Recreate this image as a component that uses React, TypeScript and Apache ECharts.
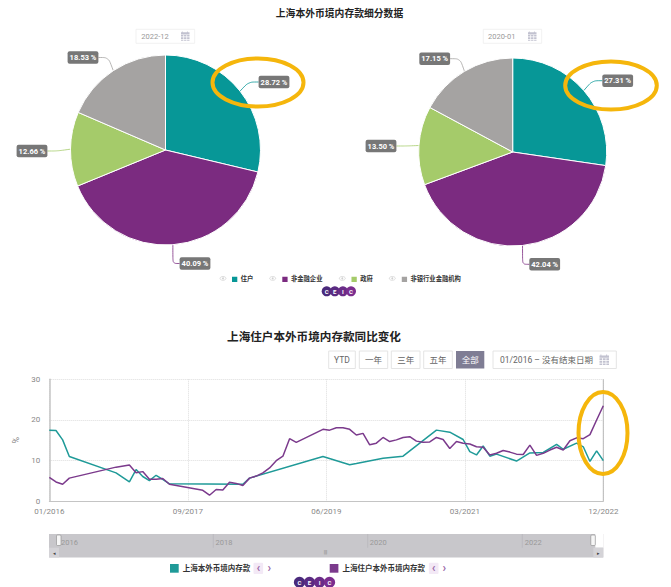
import React, { useEffect, useRef } from "react";
import * as echarts from "echarts";

const FONT = "Roboto, 'Noto Sans CJK SC', sans-serif";

const pieNames = ["住户", "非金融企业", "政府", "非银行业金融机构"];
const pieValues2022 = [28.72, 40.09, 12.66, 18.53];
const pieValues2020 = [27.31, 42.04, 13.5, 17.15];
const pieColors = ["#079797", "#7b2b80", "#a5cb6a", "#a5a3a2"];

const pieLabelPos2022 = [[274, 82], [195, 263.5], [32, 151], [83, 57.5]];
const pieLabelPos2020 = [[617.7, 80.7], [544.7, 264.3], [381, 146], [434.7, 58.7]];

const xTickLabels = ["01/2016", "09/2017", "06/2019", "03/2021", "12/2022"];
const lineNameTotal = "上海本外币境内存款";
const lineNameHousehold = "上海住户本外币境内存款";
const rangeButtons = ["YTD", "一年", "三年", "五年", "全部"];
const navYears = ["2016", "2018", "2020", "2022"];

// Monthly observations, index 0 = 01/2016, index 83 = 12/2022. Sparse entries: [monthIndex, value]
const totalYoY = [
  [0, 17.5], [1, 17.4], [2, 15.1], [3, 11.0], [10, 7.0], [12, 4.8], [13, 7.8], [14, 6.1], [15, 5.1],
  [16, 6.4], [17, 5.4], [18, 4.3], [29, 4.2], [30, 5.7], [41, 11.0], [45, 9.0], [46, 9.3], [50, 10.6],
  [53, 11.1], [58, 17.5], [60, 17.0], [62, 15.2], [63, 12.2], [64, 11.4], [65, 13.6], [66, 11.1],
  [67, 11.6], [70, 9.9], [72, 11.9], [74, 12.0], [76, 14.0], [77, 12.8], [79, 14.3], [80, 13.4],
  [81, 9.8], [82, 12.4], [83, 10.0],
];
const householdYoY = [
  [0, 5.9], [1, 4.75], [2, 4.2], [3, 5.7], [10, 8.4], [12, 8.9], [13, 7.0], [14, 7.3], [15, 5.4],
  [16, 5.4], [17, 5.6], [18, 4.2], [23, 2.7], [24, 1.5], [25, 2.9], [26, 2.8], [27, 4.7], [28, 4.4],
  [29, 3.9], [30, 5.7], [31, 6.2], [32, 7.0], [33, 8.2], [34, 10.0], [35, 11.1], [36, 15.4], [37, 14.5],
  [41, 17.7], [42, 17.5], [43, 18.1], [44, 18.1], [45, 17.7], [46, 16.3], [47, 16.7], [48, 13.9],
  [49, 14.3], [50, 15.7], [51, 14.7], [52, 15.1], [53, 15.7], [54, 15.9], [55, 14.8], [56, 14.5],
  [57, 14.6], [58, 15.7], [59, 15.2], [60, 13.0], [61, 14.7], [62, 14.3], [63, 14.1], [64, 13.4],
  [65, 13.3], [66, 11.4], [67, 11.8], [68, 12.5], [69, 12.1], [70, 11.6], [71, 11.5], [72, 13.8],
  [73, 11.3], [74, 11.8], [75, 12.6], [76, 13.3], [77, 12.6], [78, 14.9], [79, 15.6], [80, 15.4],
  [81, 16.4], [82, 20.0], [83, 23.5],
];

echarts.graphic.registerShape(
  "calendarIcon",
  echarts.graphic.extendPath(
    "M1 0h1v1h5V0h1v1h2v2.4H0V1h1z M0 4h2.8v2H0z M3.6 4h2.8v2H3.6z M7.2 4H10v2H7.2z M0 6.8h2.8v2H0z M3.6 6.8h2.8v2H3.6z M7.2 6.8H10v2H7.2z M0 9.6h2.8V11H0z M3.6 9.6h2.8V11H3.6z M7.2 9.6H10V11H7.2z",
    {}
  ) as any
);

const txt = (x: number, y: number, text: string, fontSize: number, fill: string, extra: any = {}) => ({
  type: "text",
  x,
  y,
  z: 20,
  style: { text, fontSize, fill, fontFamily: FONT, align: "center", verticalAlign: "middle", ...extra },
});
const rect = (x: number, y: number, w: number, h: number, style: any, r = 0) => ({
  type: "rect",
  z: 10,
  shape: { x, y, width: w, height: h, r },
  style,
});
const calendar = (x: number, y: number, s = 1) => ({
  type: "calendarIcon",
  x,
  y,
  scaleX: s,
  scaleY: s,
  z: 20,
  style: { fill: "#c2c2d0" },
});
const eye = (cx: number, cy: number) => [
  { type: "ellipse", z: 20, shape: { cx, cy, rx: 3, ry: 1.9 }, style: { fill: "none", stroke: "#cfcfcf", lineWidth: 0.7 } },
  { type: "circle", z: 20, shape: { cx, cy, r: 0.9 }, style: { fill: "#cfcfcf" } },
];
const ring = (cx: number, cy: number, rx: number, ry: number) => ({
  type: "ellipse",
  z: 30,
  shape: { cx, cy, rx, ry },
  style: { fill: "none", stroke: "#f5b60c", lineWidth: 4 },
});
const logo = (x0: number, cy: number, step: number, r: number, fs: number) =>
  ["C", "E", "I", "C"].flatMap((ch, i) => [
    {
      type: "circle",
      z: 20,
      shape: { cx: x0 + i * step, cy, r },
      style: { fill: ["#4a2a7c", "#5a2b82", "#6a2c88", "#7b2d8e"][i] },
    },
    { ...txt(x0 + i * step, cy, ch, fs, "#ffffff", { fontWeight: "bold" }), z: 21 },
  ]);
const chevrons = (x1: number, x2: number, y: number) => [
  rect(x1 - 4.8, y - 5.6, 9.6, 11.2, { fill: "#f3e9f6" }, 1),
  txt(x1, y - 0.8, "‹", 12, "#9a6aa8", { fontWeight: "bold" }),
  txt(x2, y - 0.8, "›", 12, "#9a6aa8", { fontWeight: "bold" }),
];

const buttonBoxes = [[328.7, 26.6], [359.3, 28.4], [391.3, 28.7], [423.7, 28.6], [456, 28.3]];
const navYearX = [69.5, 224, 378.3, 533.3];
const navLineX = [213.3, 367.7, 522.3];

function buildOption(): any {
  const pie = (name: string, values: number[], center: number[], radius: number, pos: number[][]) => ({
    type: "pie",
    name,
    center,
    radius,
    startAngle: 90,
    clockwise: true,
    silent: true,
    itemStyle: { borderColor: "#ffffff", borderWidth: 1 },
    data: pieNames.map((n, i) => ({ name: n, value: values[i] })),
    label: {
      show: true,
      position: "outside",
      formatter: (p: any) => `${p.value.toFixed(2)} %`,
      color: "#ffffff",
      fontFamily: FONT,
      fontSize: 7.5,
      fontWeight: "bold",
      backgroundColor: "#777777",
      borderRadius: 2,
      padding: [3, 2, 2, 2],
    },
    labelLine: { show: true, length: 10, length2: 10, smooth: 0.3, lineStyle: { width: 0.8 } },
    labelLayout: (p: any) => ({
      x: pos[p.dataIndex][0],
      y: pos[p.dataIndex][1],
      align: "center",
      verticalAlign: "middle",
    }),
  });

  const line = (name: string, data: number[][], color: string) => ({
    type: "line",
    name,
    data,
    showSymbol: false,
    symbol: "none",
    silent: true,
    lineStyle: { color, width: 1.5 },
    itemStyle: { color },
    z: 5,
  });

  const graphicEls: any[] = [
    // date pickers of the pies
    rect(136, 29.3, 58.7, 14, { fill: "#fff", stroke: "#eeeeee", lineWidth: 0.8 }),
    txt(155, 36.3, "2022-12", 7.5, "#999999"),
    calendar(181, 31.5, 0.85),
    rect(483.3, 29.3, 58.4, 14, { fill: "#fff", stroke: "#eeeeee", lineWidth: 0.8 }),
    txt(501.7, 36.3, "2020-01", 7.5, "#999999"),
    calendar(528, 31.5, 0.85),
    ...eye(223, 278.4),
    ...eye(272.7, 278.4),
    ...eye(342.3, 278.4),
    ...eye(392.3, 278.4),
    ...logo(326.7, 291.3, 8.1, 5, 6),
    // range buttons
    ...rangeButtons.flatMap((b, i) => {
      const [x, w] = buttonBoxes[i];
      const active = i === rangeButtons.length - 1;
      return [
        rect(x, 351, w, 17.5, active ? { fill: "#7f7d94" } : { fill: "#fff", stroke: "#e4e4e4", lineWidth: 1 }),
        txt(x + w / 2, 360, b, 8.5, active ? "#ffffff" : "#666666"),
      ];
    }),
    rect(493, 351, 123.3, 17.5, { fill: "#fff", stroke: "#e4e4e4", lineWidth: 1 }),
    txt(546.5, 360, "01/2016 – 没有结束日期", 8.5, "#666666"),
    calendar(599.5, 354.5, 0.95),
    // right axis edge
    { type: "line", z: 4, shape: { x1: 603.3, y1: 379.3, x2: 603.3, y2: 501.3 }, style: { stroke: "#b8b8b8", lineWidth: 1 } },
    // navigator
    rect(49, 534, 554.3, 23.4, { fill: "#c8c7cb" }),
    rect(595.3, 534, 8, 13.7, { fill: "#ffffff" }),
    rect(49, 547.7, 10, 9.7, { fill: "#d4d3d7" }),
    rect(593.3, 547.7, 10, 9.7, { fill: "#d4d3d7" }),
    txt(54, 552.5, "◂", 5, "#444444"),
    txt(598.3, 552.5, "▸", 5, "#444444"),
    txt(325.5, 552.3, "|||", 5, "#777777"),
    ...navLineX.map((x) => ({
      type: "line",
      z: 11,
      shape: { x1: x, y1: 534, x2: x, y2: 547.7 },
      style: { stroke: "#b6b5ba", lineWidth: 0.7 },
    })),
    ...navYears.map((y, i) => txt(navYearX[i], 542, y, 7.5, "#999999")),
    rect(56.5, 535, 4.5, 10.5, { fill: "#f6f6f6", stroke: "#8a8a8a", lineWidth: 0.6 }, 1),
    rect(590.8, 535, 4.5, 10.5, { fill: "#f6f6f6", stroke: "#8a8a8a", lineWidth: 0.6 }, 1),
    ...chevrons(258.3, 269.3, 568.3),
    ...chevrons(433.7, 444.3, 568.3),
    ...logo(299.5, 582.3, 10, 5.6, 6),
    // highlight rings
    ring(258, 82.5, 45.5, 24),
    ring(611, 85.5, 45.8, 24),
    ring(603, 433, 24.5, 41),
  ];

  return {
    animation: false,
    backgroundColor: "#ffffff",
    color: pieColors,
    textStyle: { fontFamily: FONT },
    title: [
      {
        text: "上海本外币境内存款细分数据",
        left: 339.5,
        top: 9,
        padding: 0,
        textAlign: "center",
        textStyle: { fontSize: 9.8, fontWeight: "bold", color: "#222222", fontFamily: FONT },
      },
      {
        text: "上海住户本外币境内存款同比变化",
        left: 314,
        top: 331,
        padding: 0,
        textAlign: "center",
        textStyle: { fontSize: 11.6, fontWeight: "bold", color: "#222222", fontFamily: FONT },
      },
    ],
    legend: [
      {
        data: pieNames,
        left: 230,
        top: 274.7,
        padding: 0,
        icon: "rect",
        itemWidth: 7.3,
        itemHeight: 7.3,
        itemGap: 27,
        selectedMode: false,
        textStyle: { fontSize: 6.3, fontWeight: "bold", color: "#333333", fontFamily: FONT, padding: [0, 0, 0, -2.6] },
      },
      {
        data: [lineNameTotal, lineNameHousehold],
        left: 170,
        top: 564,
        padding: 0,
        icon: "rect",
        itemWidth: 8.7,
        itemHeight: 8.7,
        itemGap: 79.5,
        selectedMode: false,
        textStyle: { fontSize: 7.5, fontWeight: "bold", color: "#333333", fontFamily: FONT, padding: [0, 0, 0, -1] },
      },
    ],
    grid: { left: 49.3, top: 379.3, width: 554, height: 122, containLabel: false },
    xAxis: {
      type: "value",
      min: 0,
      max: 83,
      interval: 20.75,
      axisLine: { show: true, onZero: false, lineStyle: { color: "#c4c4c4", width: 1 } },
      axisTick: { show: false },
      axisLabel: {
        color: "#888888",
        fontSize: 8,
        margin: 6,
        showMinLabel: true,
        showMaxLabel: true,
        formatter: (v: number) => xTickLabels[Math.round(v / 20.75)] ?? "",
      },
      splitLine: { show: true, lineStyle: { color: "#dddddd", type: "dotted", width: 1 } },
    },
    yAxis: {
      type: "value",
      min: 0,
      max: 30,
      interval: 10,
      name: "%",
      nameLocation: "middle",
      nameGap: 21,
      nameRotate: 90,
      nameTextStyle: { color: "#888888", fontSize: 9 },
      axisLine: { show: true, lineStyle: { color: "#c4c4c4", width: 1.5 } },
      axisTick: { show: false },
      axisLabel: { color: "#888888", fontSize: 8, margin: 9 },
      splitLine: { show: true, lineStyle: { color: "#dddddd", type: "dotted", width: 1 } },
    },
    series: [
      pie("2022-12", pieValues2022, [165.5, 150], 95, pieLabelPos2022),
      pie("2020-01", pieValues2020, [512.7, 152], 94, pieLabelPos2020),
      line(lineNameTotal, totalYoY, "#1f9a98"),
      line(lineNameHousehold, householdYoY, "#7b3a8c"),
    ],
    graphic: { elements: graphicEls },
  };
}

export default function App() {
  const ref = useRef<HTMLDivElement>(null);
  useEffect(() => {
    const chart = echarts.init(ref.current!, undefined, { renderer: "svg" });
    chart.setOption(buildOption());
    return () => chart.dispose();
  }, []);
  return <div ref={ref} style={{ position: "absolute", left: 0, top: 0, width: 671, height: 587 }} />;
}
